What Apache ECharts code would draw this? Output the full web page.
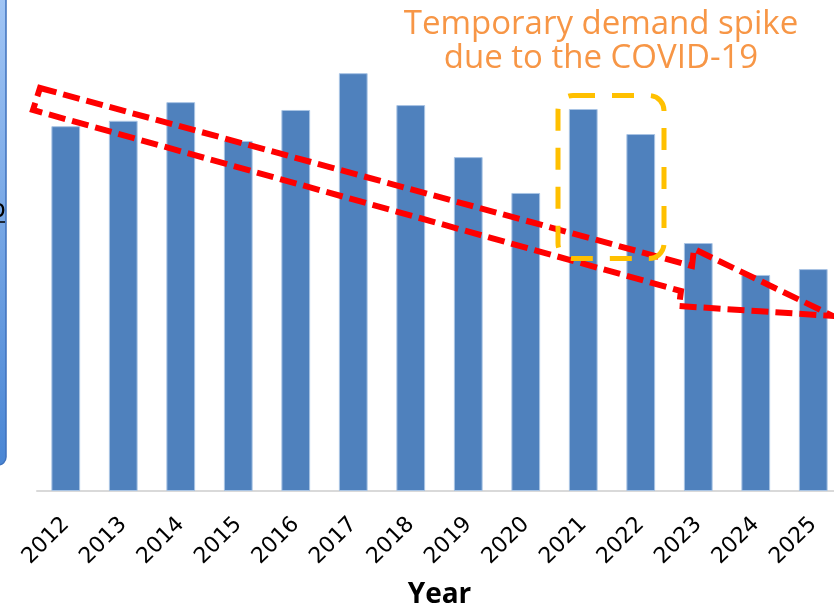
<!DOCTYPE html>
<html>
<head>
<meta charset="utf-8">
<script src="https://cdn.jsdelivr.net/npm/echarts@6/dist/echarts.min.js"></script>
<style>
html,body{margin:0;padding:0;background:#fff;}
#chart{width:834px;height:605px;}
</style>
</head>
<body>
<div id="chart"></div>
<script>
// Data
const years = ['2012','2013','2014','2015','2016','2017','2018','2019','2020','2021','2022','2023','2024','2025'];
const demand = [74.3, 75.4, 79.2, 71.3, 77.6, 85.1, 78.6, 68.0, 60.7, 77.8, 72.7, 50.5, 44.0, 45.2];
const axisTitle = 'Year';
const noteLines = ['Temporary demand spike', 'due to the COVID-19'];

const chart = echarts.init(document.getElementById('chart'));
chart.setOption({
  animation: false,
  backgroundColor: '#ffffff',
  grid: { left: 37, top: 0, width: 805, bottom: 114, containLabel: false, outerBoundsMode: 'none' },
  xAxis: {
    type: 'category',
    data: years,
    name: axisTitle,
    nameLocation: 'middle',
    nameGap: 90,
    nameTextStyle: { fontFamily: 'Open Sans', fontWeight: 'bold', fontSize: 28, color: '#000' },
    axisLine: { show: true, lineStyle: { color: '#d9d9d9', width: 2 } },
    axisTick: { show: false },
    axisLabel: { rotate: 45, margin: 30, fontFamily: 'DejaVu Sans', fontSize: 22, color: '#000', interval: 0 }
  },
  yAxis: {
    type: 'value', min: 0, max: 100, show: false,
    splitLine: { show: false }
  },
  series: [{
    type: 'bar',
    data: demand,
    barWidth: '50%',
    itemStyle: { color: '#4F81BD', borderColor: '#a9c4e4', borderWidth: 1 }
  }],
  graphic: [
    {
      type: 'rect', z: 10,
      shape: { x: -30, y: -30, width: 36, height: 495, r: 8 },
      style: {
        fill: new echarts.graphic.LinearGradient(0, 0, 0, 1, [
          { offset: 0, color: '#a6c9f7' }, { offset: 1, color: '#4a86d4' }
        ]),
        stroke: '#3f72bd', lineWidth: 1.5
      }
    },
    {
      type: 'text', z: 11, left: -9, top: 199,
      style: { text: 'o', fontFamily: 'DejaVu Sans', fontSize: 24, fill: '#000' }
    },
    {
      type: 'line', z: 11,
      shape: { x1: 0, y1: 222, x2: 5, y2: 222 },
      style: { stroke: '#000', lineWidth: 1.5 }
    },
    {
      type: 'polygon', z: 20,
      shape: { points: [[40,88],[692,266],[694,249],[833,316],[679,306],[681,291],[33,110]] },
      style: { fill: 'none', stroke: '#ff0000', lineWidth: 6, lineDash: [17, 7] }
    },
    {
      type: 'rect', z: 20,
      shape: { x: 558, y: 95.5, width: 106, height: 163, r: 15 },
      style: { fill: 'none', stroke: '#FFC000', lineWidth: 5, lineDash: [22, 17] }
    },
    {
      type: 'text', z: 20, x: 601, y: 8,
      style: {
        text: noteLines.join('\n'),
        fontFamily: 'Open Sans', fontSize: 33, lineHeight: 34,
        fill: '#F79646', align: 'center', verticalAlign: 'top'
      }
    }
  ]
});
</script>
</body>
</html>
